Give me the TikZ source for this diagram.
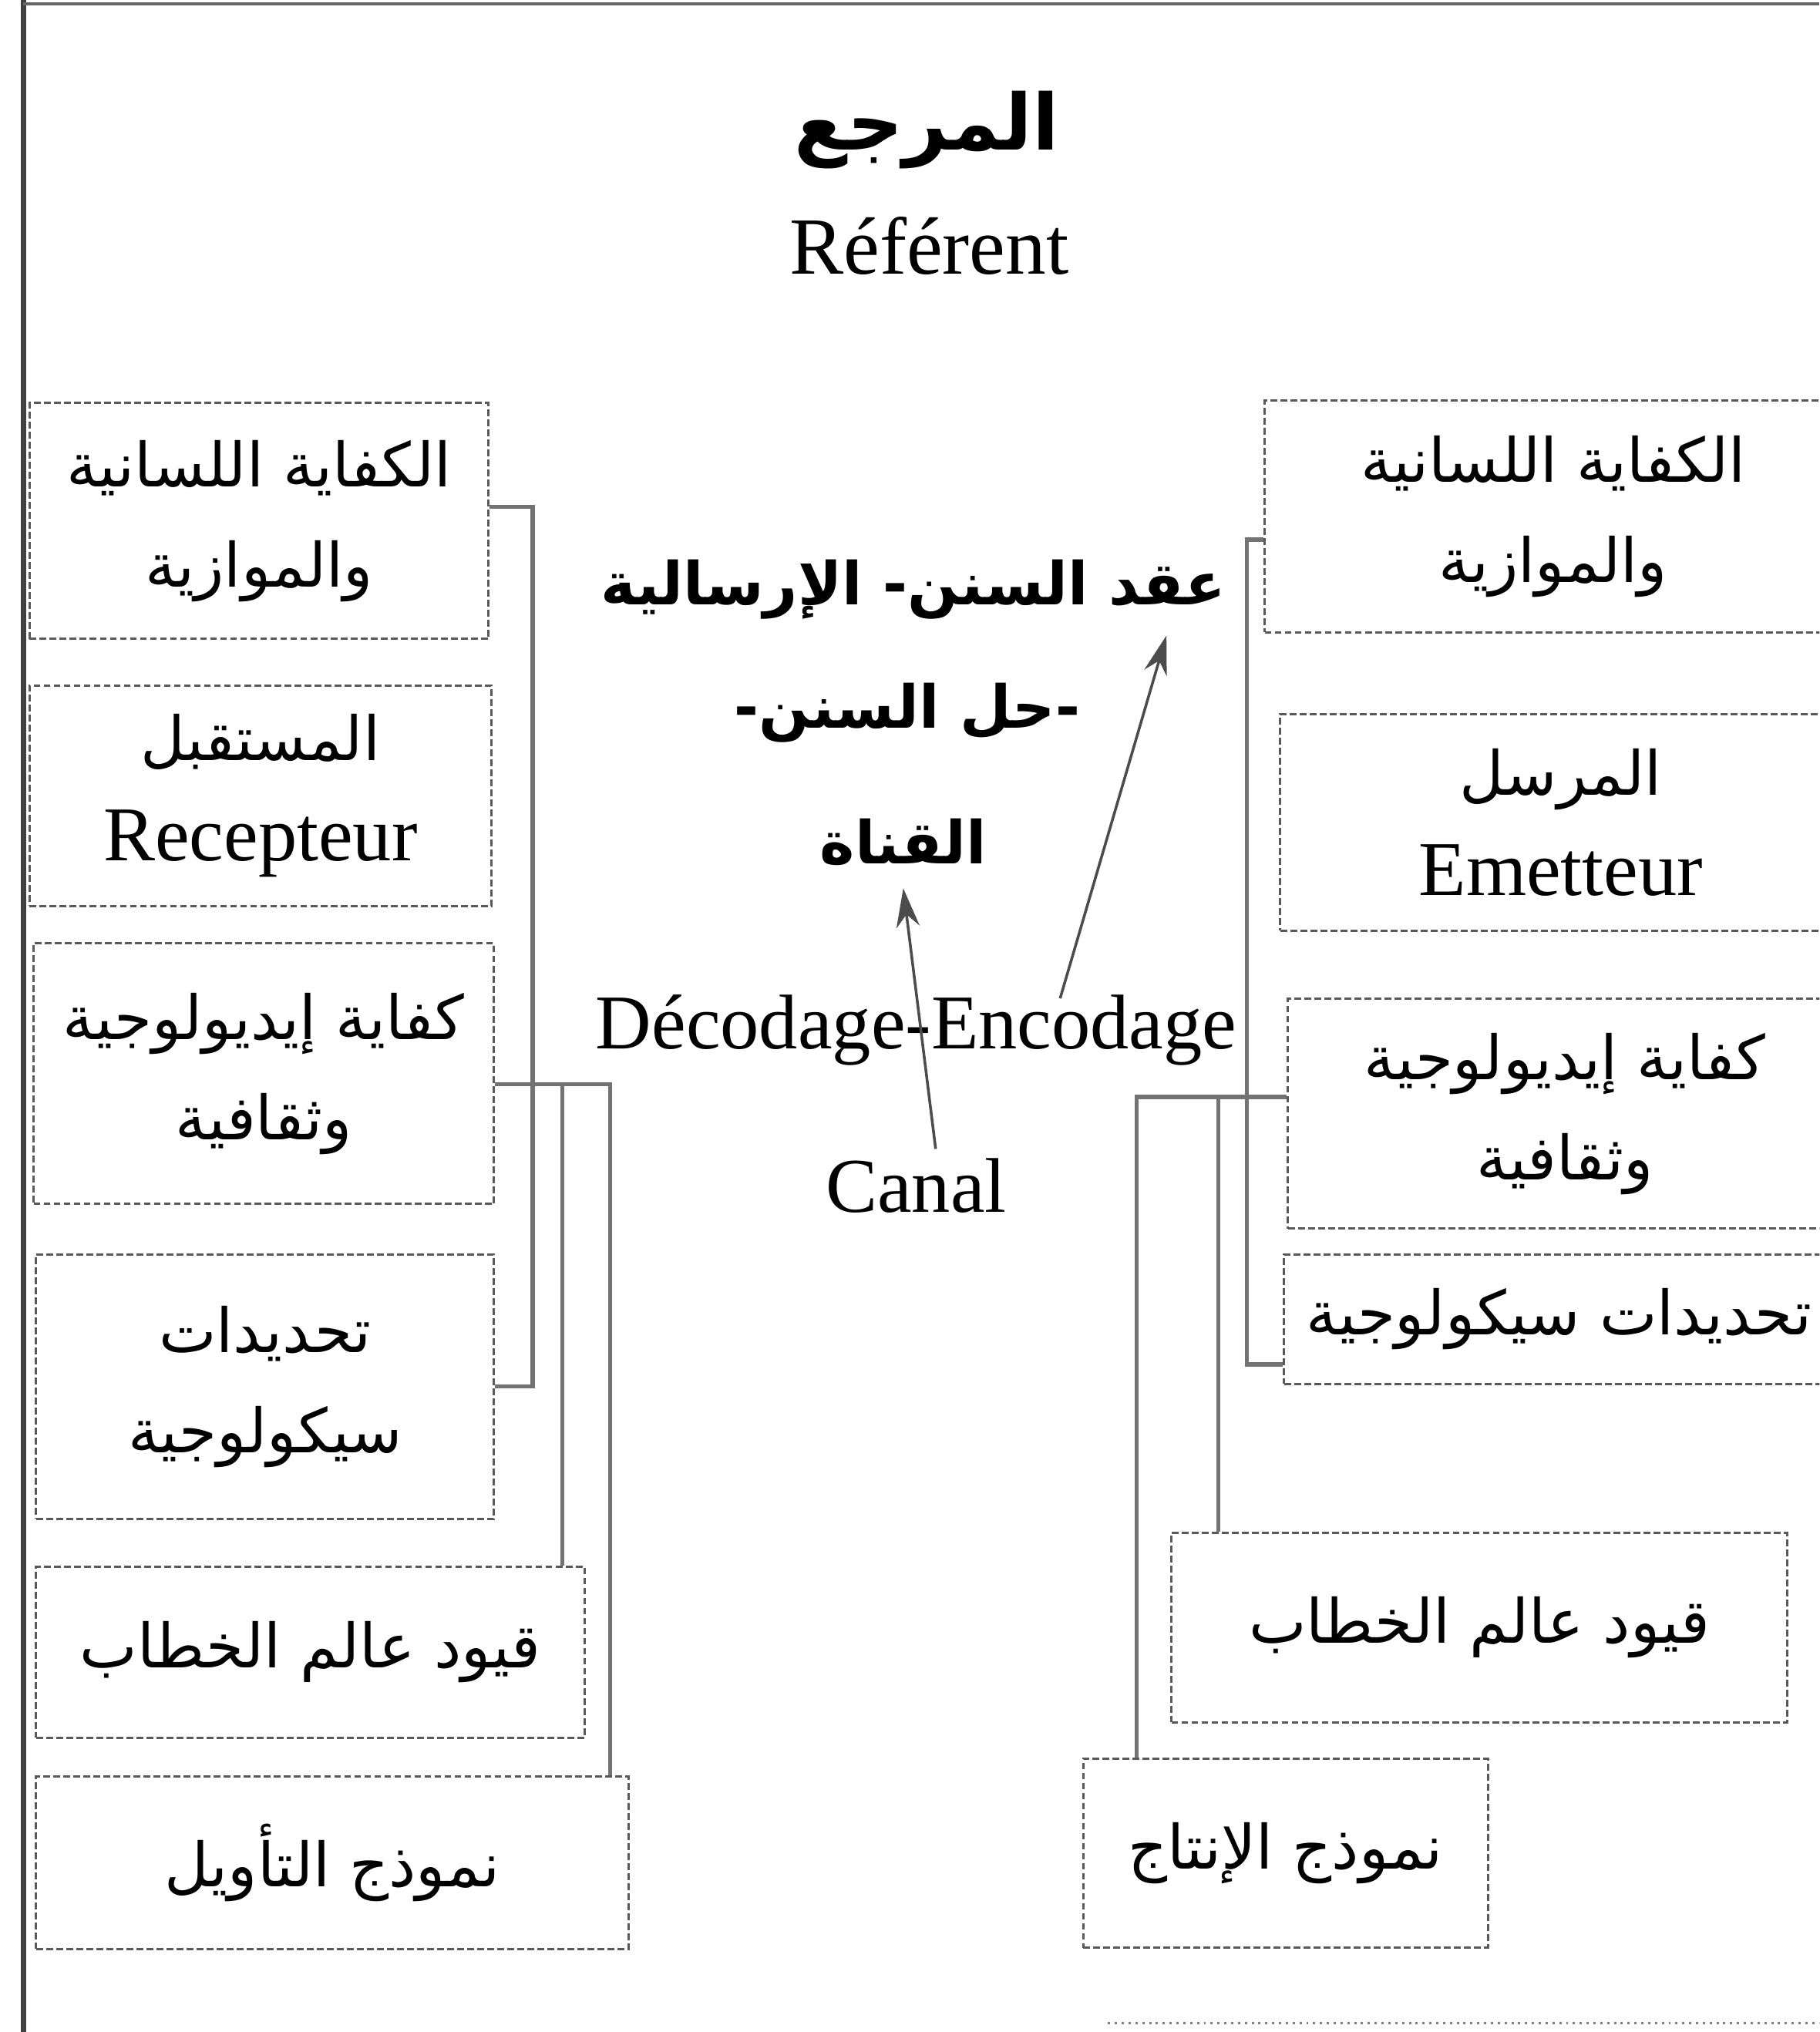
\documentclass[tikz,border=0pt]{standalone}
\usepackage{fontspec}
\setmainfont{Liberation Serif}
\newfontfamily\arabicfont[Script=Arabic]{DejaVu Sans}
\TeXXeTstate=1
\usetikzlibrary{arrows.meta}
\newcommand\arb[1]{{\arabicfont\beginR #1\endR}}
\newcommand\boxfont{\fontsize{13.4}{22}\selectfont}
\newcommand\latinfont{\fontsize{17}{20}\selectfont}
\newcommand\midfont{\fontsize{13}{20}\selectfont\bfseries}
\newcommand\titlefont{\fontsize{17}{20}\selectfont\bfseries}

\tikzset{
  box/.style={draw=black!65, line width=0.5pt, dash pattern=on 1.5pt off 0.7pt,
    anchor=north west, inner sep=0pt, align=center, font=\boxfont},
  link/.style={draw=black!55, line width=0.9pt},
  pointer/.style={draw=black!70, line width=0.6pt, -{Stealth[length=0.3cm, width=0.18cm]}},
}

\begin{document}
\begin{tikzpicture}[x=0.01cm, y=-0.01cm]
\useasboundingbox (0,0) rectangle (1404,1568);
\clip (0,0) rectangle (1404,1568);

% frame
\draw[line width=1.2pt, black!75] (18,0) -- (18,1568);
\draw[line width=0.6pt, black!60] (18,3) -- (1404,3);
\draw[line width=0.5pt, black!50, densely dotted] (855,1561) -- (1404,1561);

% title
\node[font=\titlefont] (marja) at (715,100) {\arb{المرجع}};
\node[font=\fontsize{17.8}{20}\selectfont] (referent) at (717,190) {Référent};

% left column
\node[box, minimum width=3.54cm, minimum height=1.82cm] (l1) at (22,310) {\arb{الكفاية اللسانية}\\\arb{والموازية}};
\node[box, minimum width=3.56cm, minimum height=1.70cm] (l2) at (22,528) {\arb{المستقبل}\\{\latinfont Recepteur}};
\node[box, minimum width=3.55cm, minimum height=2.01cm] (l3) at (25,727) {\arb{كفاية إيديولوجية}\\\arb{وثقافية}};
\node[box, minimum width=3.53cm, minimum height=2.04cm] (l4) at (27,967) {\arb{تحديدات}\\\arb{سيكولوجية}};
\node[box, minimum width=4.23cm, minimum height=1.32cm] (l5) at (27,1208) {\arb{قيود عالم الخطاب}};
\node[box, minimum width=4.57cm, minimum height=1.33cm] (l6) at (27,1370) {\arb{نموذج التأويل}};

% right column
\node[box, minimum width=4.45cm, minimum height=1.79cm] (r1) at (975,308) {\arb{الكفاية اللسانية}\\\arb{والموازية}};
\node[box, minimum width=4.33cm, minimum height=1.67cm] (r2) at (987,550) {\arb{المرسل}\\{\latinfont Emetteur}};
\node[box, minimum width=4.27cm, minimum height=1.77cm] (r3) at (993,770) {\arb{كفاية إيديولوجية}\\\arb{وثقافية}};
\node[box, minimum width=4.24cm, minimum height=1.00cm] (r4) at (990,967) {\arb{تحديدات سيكولوجية}};
\node[box, minimum width=4.75cm, minimum height=1.46cm] (r5) at (903,1182) {\arb{قيود عالم الخطاب}};
\node[box, minimum width=3.12cm, minimum height=1.46cm] (r6) at (835,1356) {\arb{نموذج الإنتاج}};

% middle
\node[font=\midfont] (aqd) at (705,455) {\arb{عقد السنن- الإرسالية}};
\node[font=\midfont] (hall) at (700,550) {\arb{-حل السنن-}};
\node[font=\midfont] (qanat) at (697,650) {\arb{القناة}};
\node[font=\latinfont] (code) at (707,795) {Décodage-Encodage};
\node[font=\latinfont] (canal) at (707,915) {Canal};

% links
\draw[link] ([yshift=0.11cm]l1.east) -- ++(33,0) |- (l4.east);
\draw[link] ([yshift=-0.08cm]l3.east) -| ([xshift=-0.15cm]l6.north east);
\draw[link] ([yshift=-0.08cm]l3.east) -| ([xshift=-0.18cm]l5.north east);
\draw[link] ([yshift=-0.18cm]r1.west) -- ++(-13,0) |- ([yshift=-0.35cm]r4.west);
\draw[link] ([yshift=0.13cm]r3.west) -| ([xshift=0.42cm]r6.north west);
\draw[link] ([yshift=0.13cm]r3.west) -| ([xshift=0.37cm]r5.north west);

% arrows
\draw[pointer] ([xshift=0.15cm,yshift=-0.05cm]canal.north) -- ([yshift=-0.05cm]qanat.south);
\draw[pointer] ([xshift=1.11cm,yshift=-0.15cm]code.north) -- ([xshift=1.95cm]aqd.south);
\end{tikzpicture}
\end{document}
